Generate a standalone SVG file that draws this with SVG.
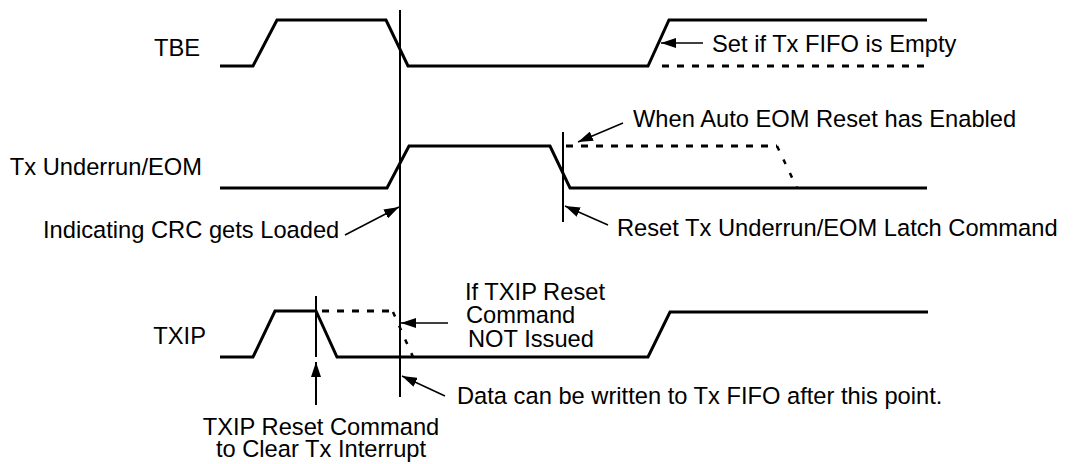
<svg xmlns="http://www.w3.org/2000/svg" width="1073" height="464" viewBox="0 0 1073 464">
<defs>
<marker id="ah" viewBox="0 0 15 10" refX="15" refY="5" markerWidth="15" markerHeight="10" orient="auto" markerUnits="userSpaceOnUse"><path d="M0,0 L15,5 L0,10 z" fill="#000"/></marker>
<style>
.sig{fill:none;stroke:#000;stroke-width:3;stroke-linejoin:miter}
.dash{fill:none;stroke:#000;stroke-width:3;stroke-dasharray:7 8}
.dot{fill:none;stroke:#000;stroke-width:2.5;stroke-dasharray:5 10}
.vl{stroke:#000;stroke-width:2}
.arr{stroke:#000;stroke-width:1.5;fill:none;marker-end:url(#ah)}
text{font-family:"Liberation Sans",Arial,sans-serif;font-size:23.7px;fill:#000}
.r{text-anchor:end}
.m{text-anchor:middle}
</style>
</defs>
<rect width="1073" height="464" fill="#fff"/>

<g id="tbe">
<text class="r" x="200" y="56">TBE</text>
<polyline class="sig" points="220,66 253,66 277,20 386,20 408,66 648,66 669,20 927,20"/>
<line class="dash" x1="662" y1="66" x2="927" y2="66"/>
</g>

<g id="eom">
<text class="r" x="202" y="175">Tx Underrun/EOM</text>
<polyline class="sig" points="220,188 387,188 409,146 550,146 570,188 927,188"/>
<line class="dash" x1="566" y1="146" x2="777" y2="146"/>
<line class="dot" x1="777" y1="146" x2="797" y2="188"/>
<line class="vl" x1="563" y1="132" x2="563" y2="222"/>
</g>

<g id="txip">
<text class="r" x="206" y="344">TXIP</text>
<polyline class="sig" points="220,357 253,357 275,311 316,311 337,357 648,357 670,312 928,312"/>
<line class="dash" x1="322" y1="311" x2="393" y2="311"/>
<line class="dot" x1="393" y1="312" x2="413" y2="357"/>
<line class="vl" x1="316" y1="296" x2="316" y2="357"/>
</g>

<g id="marker-line">
<line class="vl" x1="400" y1="10" x2="400" y2="397"/>
</g>

<g id="connectors">
<line class="arr" x1="703" y1="43" x2="661" y2="43"/>
<line class="arr" x1="623" y1="123" x2="578" y2="142"/>
<line class="arr" x1="608" y1="225" x2="565" y2="206"/>
<line class="arr" x1="345" y1="235" x2="399" y2="207"/>
<line class="arr" x1="448" y1="323" x2="401" y2="323"/>
<line class="arr" x1="445" y1="396" x2="402" y2="376"/>
<line class="arr" style="stroke-width:2" x1="316" y1="405" x2="316" y2="362"/>
</g>

<g id="labels">
<text x="712" y="52">Set if Tx FIFO is Empty</text>
<text x="633" y="127">When Auto EOM Reset has Enabled</text>
<text x="617" y="236">Reset Tx Underrun/EOM Latch Command</text>
<text x="43" y="238">Indicating CRC gets Loaded</text>
<text x="465" y="300">If TXIP Reset</text>
<text x="466" y="323">Command</text>
<text x="468" y="347">NOT Issued</text>
<text x="457" y="404">Data can be written to Tx FIFO after this point.</text>
<text class="m" x="321" y="435">TXIP Reset Command</text>
<text class="m" x="321" y="457">to Clear Tx Interrupt</text>
</g>
</svg>
